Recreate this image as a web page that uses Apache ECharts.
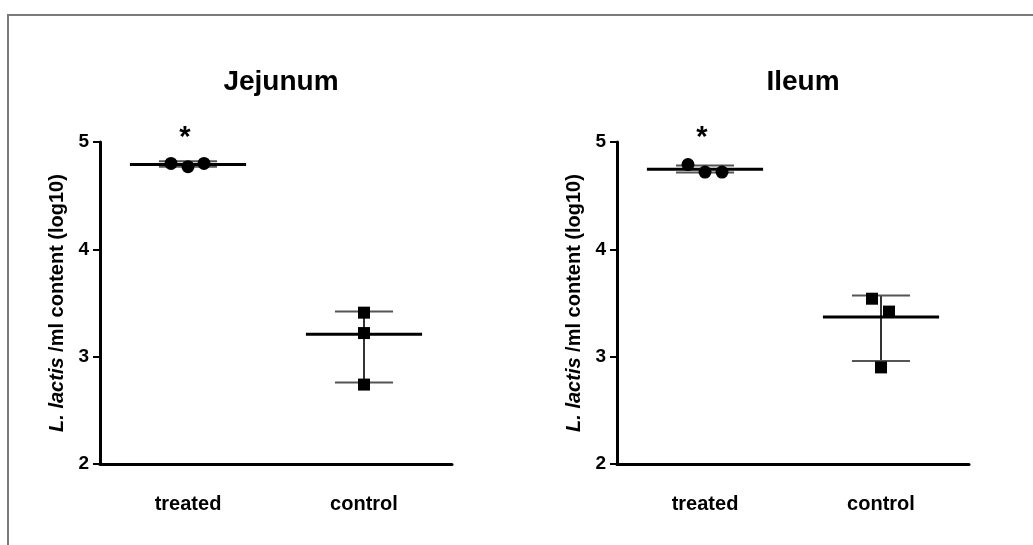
<!DOCTYPE html>
<html>
<head>
<meta charset="utf-8">
<script src="https://cdn.jsdelivr.net/npm/echarts@6/dist/echarts.min.js"></script>
<style>
  html, body { margin: 0; padding: 0; background: #fff; }
  #chart { width: 1033px; height: 545px; }
</style>
</head>
<body>
<div id="chart"></div>
<script>
// categories / axis
const categories = ["treated", "control"];
const panelTitles = ["Jejunum", "Ileum"];
const yMin = 2, yMax = 5, yStep = 1;
const yName = "{it|L. lactis} /ml content (log10)";
const significance = ["*", ""];

// Jejunum: single animals + centre line and whiskers
const jejunumTreated = [4.80, 4.77, 4.80];
const jejunumControl = [3.41, 3.22, 2.74];
const jejunumCenter = [4.79, 3.21];
const jejunumLow = [4.77, 2.76];
const jejunumHigh = [4.82, 3.42];

// Ileum
const ileumTreated = [4.79, 4.72, 4.72];
const ileumControl = [3.54, 3.42, 2.90];
const ileumCenter = [4.745, 3.37];
const ileumLow = [4.715, 2.96];
const ileumHigh = [4.78, 3.57];

// horizontal scatter of the dots, in px (style only)
const jitter = {
  jejunum: { treated: [-17, 0, 16], control: [0, 0, 0] },
  ileum: { treated: [-17, 0, 17], control: [-9, 8, 0] },
};

const FONT = "Liberation Sans, Arial, sans-serif";
var myChart = echarts.init(document.getElementById("chart"));

function renderSummary(params, api) {
  const cat = api.value(0);
  const c = api.coord([cat, api.value(1)]);
  const lo = api.coord([cat, api.value(2)]);
  const hi = api.coord([cat, api.value(3)]);
  const top = api.coord([cat, yMax]);
  const band = api.size([1, 0])[0];
  const capHalf = band * 0.165;
  const midHalf = band * 0.33;
  const star = significance[cat];
  return {
    type: "group",
    children: [
      { type: "line", shape: { x1: lo[0], y1: lo[1], x2: hi[0], y2: hi[1] }, style: { stroke: "#333", lineWidth: 2 } },
      { type: "line", shape: { x1: hi[0] - capHalf, y1: hi[1], x2: hi[0] + capHalf, y2: hi[1] }, style: { stroke: "#555", lineWidth: 2 } },
      { type: "line", shape: { x1: lo[0] - capHalf, y1: lo[1], x2: lo[0] + capHalf, y2: lo[1] }, style: { stroke: "#555", lineWidth: 2 } },
      { type: "line", shape: { x1: c[0] - midHalf, y1: c[1], x2: c[0] + midHalf, y2: c[1] }, style: { stroke: "#000", lineWidth: 3 } },
      {
        type: "text",
        x: top[0] - 3, y: top[1] - 4,
        style: { text: star, fill: "#000", font: "bold 29px " + FONT, align: "center", verticalAlign: "middle" },
      },
    ],
  };
}

function panel(i, left, center, low, high, treated, control, jit) {
  return {
    grid: { left: left, top: 142, width: 352, height: 322 },
    xAxis: {
      gridIndex: i,
      type: "category",
      data: categories,
      boundaryGap: true,
      axisLine: { lineStyle: { color: "#000", width: 3 } },
      axisTick: { alignWithLabel: true, length: 7, lineStyle: { color: "#000", width: 3 } },
      axisLabel: { margin: 30, color: "#000", fontWeight: "bold", fontSize: 20, fontFamily: FONT },
    },
    yAxis: {
      gridIndex: i,
      type: "value",
      min: yMin,
      max: yMax,
      interval: yStep,
      splitLine: { show: false },
      axisLine: { show: true, lineStyle: { color: "#000", width: 3 } },
      axisTick: { show: true, length: 7, lineStyle: { color: "#000", width: 2 } },
      axisLabel: { margin: 11, color: "#000", fontWeight: "bold", fontSize: 19, fontFamily: FONT },
      name: yName,
      nameLocation: "middle",
      nameGap: 33,
      nameTextStyle: {
        color: "#000", fontWeight: "bold", fontSize: 20, fontFamily: FONT,
        rich: { it: { fontStyle: "italic", fontWeight: "bold", fontSize: 20, fontFamily: FONT, color: "#000" } },
      },
    },
    series: [
      {
        type: "custom",
        xAxisIndex: i, yAxisIndex: i,
        renderItem: renderSummary,
        encode: { x: 0, y: 1 },
        data: categories.map((c, k) => [k, center[k], low[k], high[k]]),
        z: 1,
      },
      {
        type: "scatter",
        xAxisIndex: i, yAxisIndex: i,
        symbol: "circle", symbolSize: 13,
        itemStyle: { color: "#000", opacity: 1 },
        data: treated.map((v, k) => ({ value: [0, v], symbolOffset: [jit.treated[k], 0] })),
        z: 3,
      },
      {
        type: "scatter",
        xAxisIndex: i, yAxisIndex: i,
        symbol: "rect", symbolSize: 12,
        itemStyle: { color: "#000", opacity: 1 },
        data: control.map((v, k) => ({ value: [1, v], symbolOffset: [jit.control[k], 0] })),
        z: 3,
      },
    ],
  };
}

const p0 = panel(0, 100, jejunumCenter, jejunumLow, jejunumHigh, jejunumTreated, jejunumControl, jitter.jejunum);
const p1 = panel(1, 617, ileumCenter, ileumLow, ileumHigh, ileumTreated, ileumControl, jitter.ileum);

const option = {
  backgroundColor: "#fff",
  animation: false,
  title: [
    { text: panelTitles[0], left: 276, top: 63, textAlign: "center", textStyle: { fontSize: 28, fontWeight: "bold", fontFamily: FONT, color: "#000" } },
    { text: panelTitles[1], left: 798, top: 63, textAlign: "center", textStyle: { fontSize: 28, fontWeight: "bold", fontFamily: FONT, color: "#000" } },
  ],
  graphic: [
    // outer frame of the figure
    { type: "rect", shape: { x: 8, y: 15, width: 1100, height: 600 }, style: { fill: "none", stroke: "#7a7a7a", lineWidth: 2 }, silent: true },
  ],
  grid: [p0.grid, p1.grid],
  xAxis: [p0.xAxis, p1.xAxis],
  yAxis: [p0.yAxis, p1.yAxis],
  series: p0.series.concat(p1.series),
};

myChart.setOption(option);
</script>
</body>
</html>
